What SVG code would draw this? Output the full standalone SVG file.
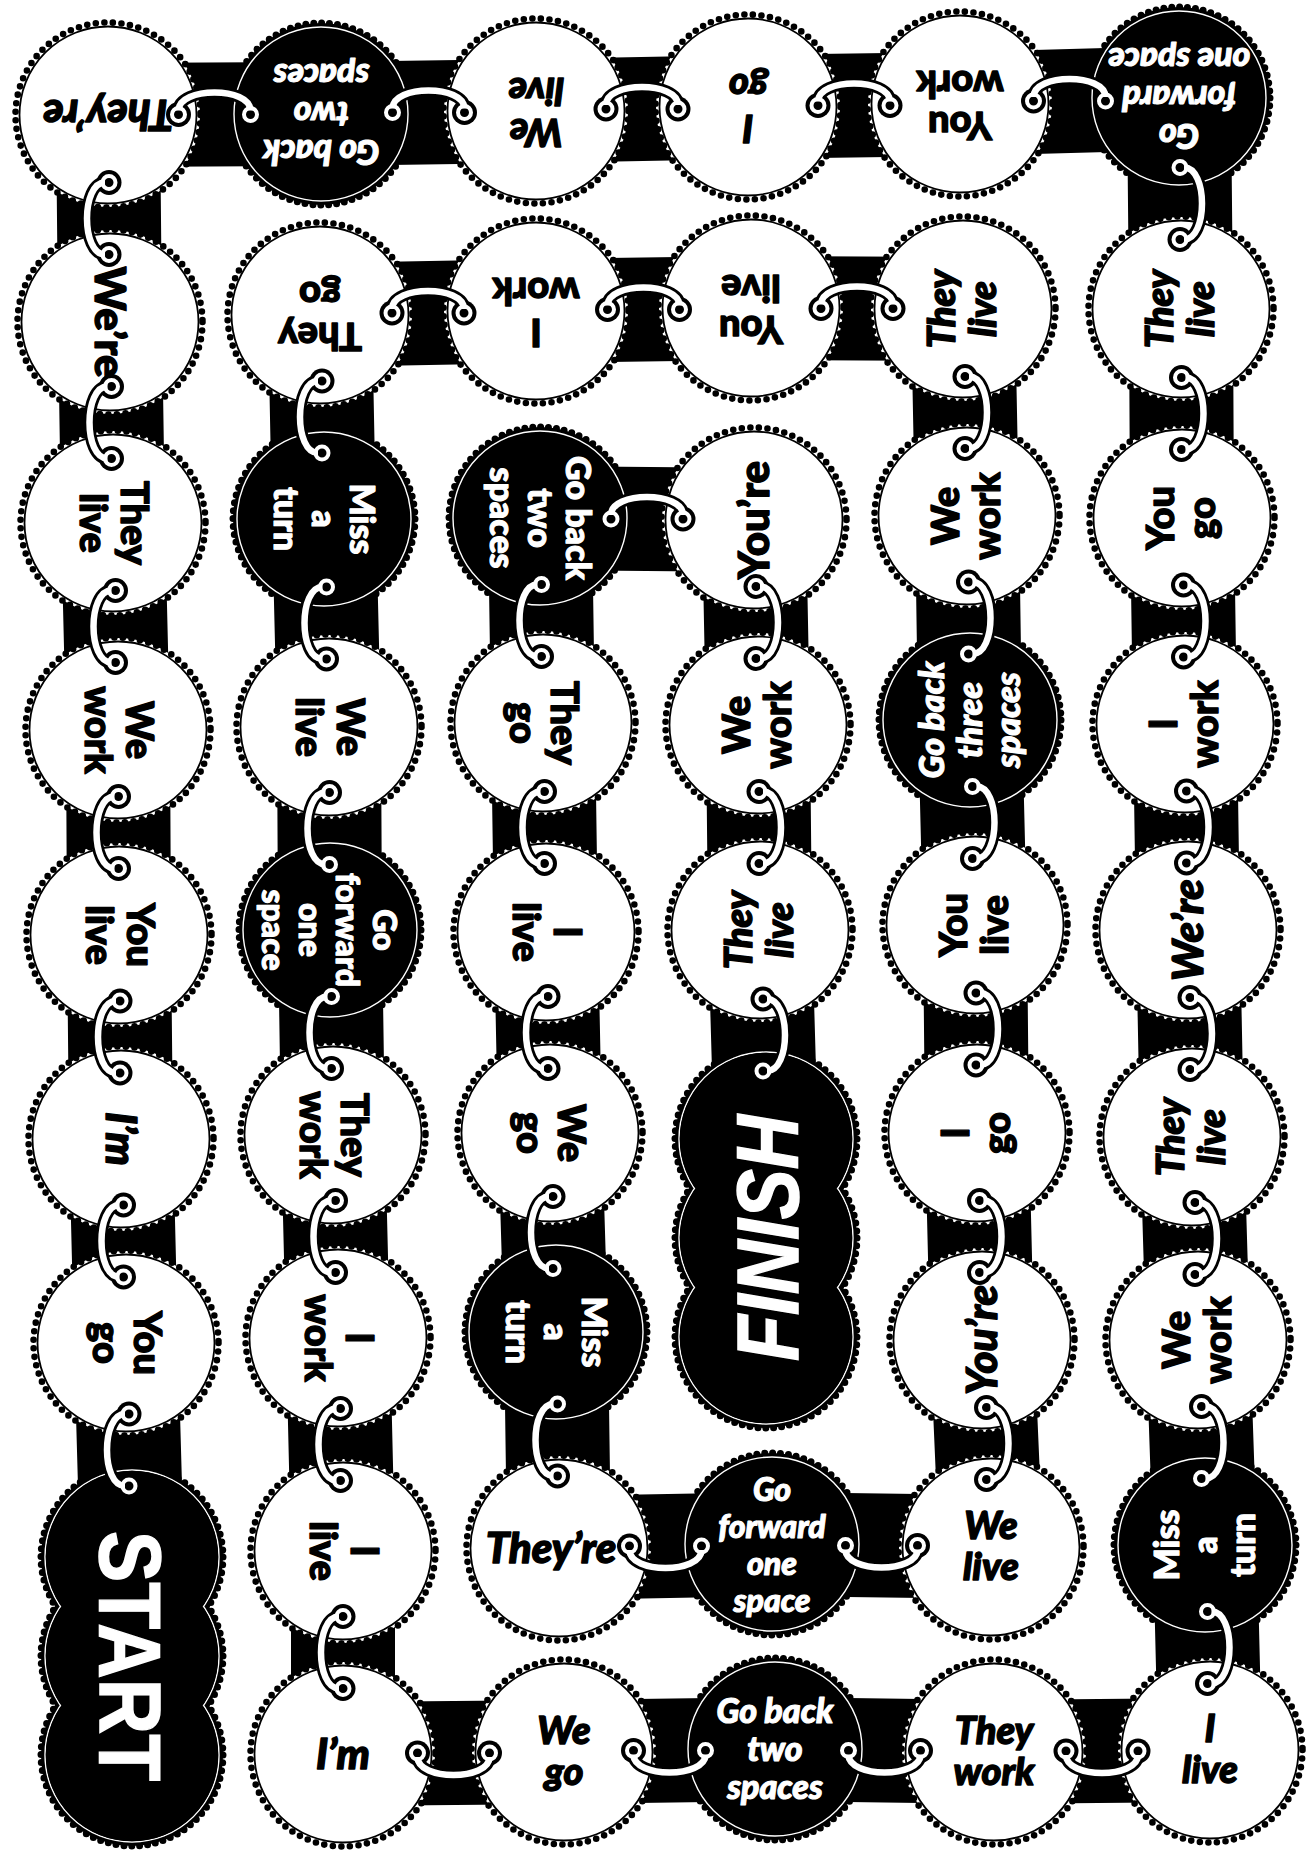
<svg xmlns="http://www.w3.org/2000/svg" xmlns:xlink="http://www.w3.org/1999/xlink" width="1312" height="1854" viewBox="0 0 1312 1854">
<style>
.t{font-family:Lato,"Open Sans","Liberation Sans",sans-serif;font-weight:900;text-anchor:middle;stroke-linejoin:round}
.k{fill:#000;stroke:#000;stroke-width:1.4}.w{fill:#fff;stroke:#fff;stroke-width:1.1}.i{font-style:italic}
.f1{font-size:42px}.f2{font-size:38px}.fb{font-size:34px}.f4{font-size:32px}
.band{fill:none;stroke:#000;stroke-width:104;stroke-linejoin:miter;stroke-linecap:butt}
.wd{fill:none;stroke:#000;stroke-width:6.6;stroke-dasharray:0 8.63;stroke-linecap:round}
.wl{fill:#fff;stroke:#000;stroke-width:1.8}
.bd{fill:none;stroke:#000;stroke-width:7;stroke-dasharray:0 7.94;stroke-linecap:round}
.bl{fill:none;stroke:#fff;stroke-width:1.4}
.big{font-family:"Liberation Sans",Arial,sans-serif;font-weight:700;font-size:88px;fill:#fff;stroke:#fff;stroke-width:1.5;text-anchor:middle}
.lo{fill:none;stroke:#000;stroke-width:12}
.li{fill:none;stroke:#fff;stroke-width:6.5}
.er{fill:none;stroke:#fff;stroke-width:4}
</style>
<defs>
<g id="wt"><circle r="92" fill="#fff"/><circle r="92.5" class="wd"/><circle r="88.5" class="wl"/></g>
<g id="bt"><circle r="91" fill="#000"/><circle r="91" class="bd"/><circle r="87" class="bl"/></g>
<g id="pn">
<circle cy="-99" r="91" fill="#000"/><circle cy="0" r="91" fill="#000"/><circle cy="99" r="91" fill="#000"/>
<circle cy="-99" r="91" class="bd"/><circle cy="0" r="91" class="bd"/><circle cy="99" r="91" class="bd"/>
<circle cy="-99" r="87" class="bl"/><circle cy="0" r="87" class="bl"/><circle cy="99" r="87" class="bl"/>
<circle cy="-99" r="86.2" fill="#000"/><circle cy="0" r="86.2" fill="#000"/><circle cy="99" r="86.2" fill="#000"/>
</g>
<g id="lk">
<path d="M-36-4C-36-28 36-28 36-4" class="lo"/>
<circle cx="-36" r="12.5" fill="#000"/><circle cx="36" r="12.5" fill="#000"/>
<path d="M-36-4C-36-28 36-28 36-4" class="li"/>
<circle cx="-36" r="6.5" class="er"/><circle cx="36" r="6.5" class="er"/>
</g>
</defs>
<rect width="1312" height="1854" fill="#fff"/>
<g id="bands">
<polyline class="band" points="132,1557 126,1343 121,1139 119,935 118,730 113,523 110,322 108,115 321,114 536,111 748,107 960,104 1179,98 1181,309 1182,518 1185,724 1188,930 1192,1137 1198,1340 1205,1545 1210,1750 994,1752 775,1749 564,1752 343,1754 343,1551 338,1338 333,1135 330,930 329,727 324,519 320,315 536,311 751,308 963,309 967,516 970,720 975,925 977,1133 982,1340 991,1547 772,1544 559,1548 556,1332 550,1133 546,932 543,723 540,518 754,520 758,725 760,930 766,1140"/>
</g>
<g id="nodes">
<g id="n01" transform="translate(108,115)"><use href="#wt"/><text class="t k i f1" transform="rotate(180)"><tspan x="0" y="15">They’re</tspan></text></g>
<g id="n02" transform="translate(321,114)"><use href="#bt"/><text class="t w i fb" transform="rotate(180)"><tspan x="0" y="-26">Go back</tspan><tspan x="0" y="12">two</tspan><tspan x="0" y="50">spaces</tspan></text></g>
<g id="n03" transform="translate(536,111)"><use href="#wt"/><text class="t k i f2" transform="rotate(180)"><tspan x="0" y="-8">We</tspan><tspan x="0" y="33">live</tspan></text></g>
<g id="n04" transform="translate(748,107)"><use href="#wt"/><text class="t k i f2" transform="rotate(180)"><tspan x="0" y="-8">I</tspan><tspan x="0" y="33">go</tspan></text></g>
<g id="n05" transform="translate(960,104)"><use href="#wt"/><text class="t k f2" transform="rotate(180)"><tspan x="0" y="-8">You</tspan><tspan x="0" y="33">work</tspan></text></g>
<g id="n06" transform="translate(1179,98)"><use href="#bt"/><text class="t w i fb" transform="rotate(180)"><tspan x="0" y="-26">Go</tspan><tspan x="0" y="12">forward</tspan><tspan x="0" y="50">one space</tspan></text></g>
<g id="n07" transform="translate(110,322)"><use href="#wt"/><text class="t k f1" transform="rotate(90)"><tspan x="0" y="15">We’re</tspan></text></g>
<g id="n08" transform="translate(320,315)"><use href="#wt"/><text class="t k f2" transform="rotate(180)"><tspan x="0" y="-8">They</tspan><tspan x="0" y="33">go</tspan></text></g>
<g id="n09" transform="translate(536,311)"><use href="#wt"/><text class="t k f2" transform="rotate(180)"><tspan x="0" y="-8">I</tspan><tspan x="0" y="33">work</tspan></text></g>
<g id="n10" transform="translate(751,308)"><use href="#wt"/><text class="t k f2" transform="rotate(180)"><tspan x="0" y="-8">You</tspan><tspan x="0" y="33">live</tspan></text></g>
<g id="n11" transform="translate(963,309)"><use href="#wt"/><text class="t k i f2" transform="rotate(-90)"><tspan x="0" y="-8">They</tspan><tspan x="0" y="33">live</tspan></text></g>
<g id="n12" transform="translate(1181,309)"><use href="#wt"/><text class="t k i f2" transform="rotate(-90)"><tspan x="0" y="-8">They</tspan><tspan x="0" y="33">live</tspan></text></g>
<g id="n13" transform="translate(113,523)"><use href="#wt"/><text class="t k f2" transform="rotate(90)"><tspan x="0" y="-8">They</tspan><tspan x="0" y="33">live</tspan></text></g>
<g id="n14" transform="translate(324,519)"><use href="#bt"/><text class="t w fb" transform="rotate(90)"><tspan x="0" y="-26">Miss</tspan><tspan x="0" y="12">a</tspan><tspan x="0" y="50">turn</tspan></text></g>
<g id="n15" transform="translate(540,518)"><use href="#bt"/><text class="t w fb" transform="rotate(90)"><tspan x="0" y="-26">Go back</tspan><tspan x="0" y="12">two</tspan><tspan x="0" y="50">spaces</tspan></text></g>
<g id="n16" transform="translate(754,520)"><use href="#wt"/><text class="t k f1" transform="rotate(-90)"><tspan x="0" y="15">You’re</tspan></text></g>
<g id="n17" transform="translate(967,516)"><use href="#wt"/><text class="t k f2" transform="rotate(-90)"><tspan x="0" y="-8">We</tspan><tspan x="0" y="33">work</tspan></text></g>
<g id="n18" transform="translate(1182,518)"><use href="#wt"/><text class="t k f2" transform="rotate(-90)"><tspan x="0" y="-8">You</tspan><tspan x="0" y="33">go</tspan></text></g>
<g id="n19" transform="translate(118,730)"><use href="#wt"/><text class="t k f2" transform="rotate(90)"><tspan x="0" y="-8">We</tspan><tspan x="0" y="33">work</tspan></text></g>
<g id="n20" transform="translate(329,727)"><use href="#wt"/><text class="t k f2" transform="rotate(90)"><tspan x="0" y="-8">We</tspan><tspan x="0" y="33">live</tspan></text></g>
<g id="n21" transform="translate(543,723)"><use href="#wt"/><text class="t k f2" transform="rotate(90)"><tspan x="0" y="-8">They</tspan><tspan x="0" y="33">go</tspan></text></g>
<g id="n22" transform="translate(758,725)"><use href="#wt"/><text class="t k f2" transform="rotate(-90)"><tspan x="0" y="-8">We</tspan><tspan x="0" y="33">work</tspan></text></g>
<g id="n23" transform="translate(970,720)"><use href="#bt"/><text class="t w i fb" transform="rotate(-90)"><tspan x="0" y="-26">Go back</tspan><tspan x="0" y="12">three</tspan><tspan x="0" y="50">spaces</tspan></text></g>
<g id="n24" transform="translate(1185,724)"><use href="#wt"/><text class="t k f2" transform="rotate(-90)"><tspan x="0" y="-8">I</tspan><tspan x="0" y="33">work</tspan></text></g>
<g id="n25" transform="translate(119,935)"><use href="#wt"/><text class="t k f2" transform="rotate(90)"><tspan x="0" y="-8">You</tspan><tspan x="0" y="33">live</tspan></text></g>
<g id="n26" transform="translate(330,930)"><use href="#bt"/><text class="t w f4" transform="rotate(90)"><tspan x="0" y="-43">Go</tspan><tspan x="0" y="-6">forward</tspan><tspan x="0" y="31">one</tspan><tspan x="0" y="68">space</tspan></text></g>
<g id="n27" transform="translate(546,932)"><use href="#wt"/><text class="t k f2" transform="rotate(90)"><tspan x="0" y="-8">I</tspan><tspan x="0" y="33">live</tspan></text></g>
<g id="n28" transform="translate(760,930)"><use href="#wt"/><text class="t k i f2" transform="rotate(-90)"><tspan x="0" y="-8">They</tspan><tspan x="0" y="33">live</tspan></text></g>
<g id="n29" transform="translate(975,925)"><use href="#wt"/><text class="t k f2" transform="rotate(-90)"><tspan x="0" y="-8">You</tspan><tspan x="0" y="33">live</tspan></text></g>
<g id="n30" transform="translate(1188,930)"><use href="#wt"/><text class="t k i f1" transform="rotate(-90)"><tspan x="0" y="15">We’re</tspan></text></g>
<g id="n31" transform="translate(121,1139)"><use href="#wt"/><text class="t k i f1" transform="rotate(90)"><tspan x="0" y="15">I’m</tspan></text></g>
<g id="n32" transform="translate(333,1135)"><use href="#wt"/><text class="t k f2" transform="rotate(90)"><tspan x="0" y="-8">They</tspan><tspan x="0" y="33">work</tspan></text></g>
<g id="n33" transform="translate(550,1133)"><use href="#wt"/><text class="t k f2" transform="rotate(90)"><tspan x="0" y="-8">We</tspan><tspan x="0" y="33">go</tspan></text></g>
<g id="n34" transform="translate(977,1133)"><use href="#wt"/><text class="t k f2" transform="rotate(-90)"><tspan x="0" y="-8">I</tspan><tspan x="0" y="33">go</tspan></text></g>
<g id="n35" transform="translate(1192,1137)"><use href="#wt"/><text class="t k i f2" transform="rotate(-90)"><tspan x="0" y="-8">They</tspan><tspan x="0" y="33">live</tspan></text></g>
<g id="n36" transform="translate(126,1343)"><use href="#wt"/><text class="t k f2" transform="rotate(90)"><tspan x="0" y="-8">You</tspan><tspan x="0" y="33">go</tspan></text></g>
<g id="n37" transform="translate(338,1338)"><use href="#wt"/><text class="t k f2" transform="rotate(90)"><tspan x="0" y="-8">I</tspan><tspan x="0" y="33">work</tspan></text></g>
<g id="n38" transform="translate(556,1332)"><use href="#bt"/><text class="t w fb" transform="rotate(90)"><tspan x="0" y="-26">Miss</tspan><tspan x="0" y="12">a</tspan><tspan x="0" y="50">turn</tspan></text></g>
<g id="n39" transform="translate(982,1340)"><use href="#wt"/><text class="t k i f1" transform="rotate(-90)"><tspan x="0" y="15">You’re</tspan></text></g>
<g id="n40" transform="translate(1198,1340)"><use href="#wt"/><text class="t k f2" transform="rotate(-90)"><tspan x="0" y="-8">We</tspan><tspan x="0" y="33">work</tspan></text></g>
<g id="start" transform="translate(132,1656)"><use href="#pn"/><text class="big" transform="rotate(90)" x="0" y="32" textLength="250" lengthAdjust="spacingAndGlyphs">START</text></g>
<g id="n42" transform="translate(343,1551)"><use href="#wt"/><text class="t k f2" transform="rotate(90)"><tspan x="0" y="-8">I</tspan><tspan x="0" y="33">live</tspan></text></g>
<g id="n43" transform="translate(559,1548)"><use href="#wt"/><text class="t k i f1"><tspan x="-8" y="15">They’re</tspan></text></g>
<g id="n44" transform="translate(772,1544)"><use href="#bt"/><text class="t w i f4"><tspan x="0" y="-43">Go</tspan><tspan x="0" y="-6">forward</tspan><tspan x="0" y="31">one</tspan><tspan x="0" y="68">space</tspan></text></g>
<g id="n45" transform="translate(991,1547)"><use href="#wt"/><text class="t k i f2"><tspan x="0" y="-8">We</tspan><tspan x="0" y="33">live</tspan></text></g>
<g id="n46" transform="translate(1205,1545)"><use href="#bt"/><text class="t w fb" transform="rotate(-90)"><tspan x="0" y="-26">Miss</tspan><tspan x="0" y="12">a</tspan><tspan x="0" y="50">turn</tspan></text></g>
<g id="n47" transform="translate(343,1754)"><use href="#wt"/><text class="t k i f1"><tspan x="0" y="15">I’m</tspan></text></g>
<g id="n48" transform="translate(564,1752)"><use href="#wt"/><text class="t k i f2"><tspan x="0" y="-8">We</tspan><tspan x="0" y="33">go</tspan></text></g>
<g id="n49" transform="translate(775,1749)"><use href="#bt"/><text class="t w i fb"><tspan x="0" y="-26">Go back</tspan><tspan x="0" y="12">two</tspan><tspan x="0" y="50">spaces</tspan></text></g>
<g id="n50" transform="translate(994,1752)"><use href="#wt"/><text class="t k i f2"><tspan x="0" y="-8">They</tspan><tspan x="0" y="33">work</tspan></text></g>
<g id="n51" transform="translate(1210,1750)"><use href="#wt"/><text class="t k i f2"><tspan x="0" y="-8">I</tspan><tspan x="0" y="33">live</tspan></text></g>
<g id="finish" transform="translate(766,1238)"><use href="#pn"/><text class="big i" transform="rotate(-90)" x="0" y="32" textLength="246" lengthAdjust="spacingAndGlyphs">FINISH</text></g>
</g>
<g id="connectors">
<use href="#lk" transform="translate(129,1450) rotate(-90)"/>
<use href="#lk" transform="translate(123.5,1241) rotate(-90)"/>
<use href="#lk" transform="translate(120,1037) rotate(-90)"/>
<use href="#lk" transform="translate(118.5,832.5) rotate(-90)"/>
<use href="#lk" transform="translate(115.5,626.5) rotate(-90)"/>
<use href="#lk" transform="translate(111.5,422.5) rotate(-90)"/>
<use href="#lk" transform="translate(109,218.5) rotate(-90)"/>
<use href="#lk" transform="translate(214.5,114.5)"/>
<use href="#lk" transform="translate(428.5,112.5)"/>
<use href="#lk" transform="translate(642,109)"/>
<use href="#lk" transform="translate(854,105.5)"/>
<use href="#lk" transform="translate(1069.5,101)"/>
<use href="#lk" transform="translate(1180,203.5) rotate(90)"/>
<use href="#lk" transform="translate(1181.5,413.5) rotate(90)"/>
<use href="#lk" transform="translate(1183.5,621) rotate(90)"/>
<use href="#lk" transform="translate(1186.5,827) rotate(90)"/>
<use href="#lk" transform="translate(1190,1033.5) rotate(90)"/>
<use href="#lk" transform="translate(1195,1238.5) rotate(90)"/>
<use href="#lk" transform="translate(1201.5,1442.5) rotate(90)"/>
<use href="#lk" transform="translate(1207.5,1647.5) rotate(90)"/>
<use href="#lk" transform="translate(1102,1751) rotate(180)"/>
<use href="#lk" transform="translate(884.5,1750.5) rotate(180)"/>
<use href="#lk" transform="translate(669.5,1750.5) rotate(180)"/>
<use href="#lk" transform="translate(453.5,1753) rotate(180)"/>
<use href="#lk" transform="translate(343,1652.5) rotate(-90)"/>
<use href="#lk" transform="translate(340.5,1444.5) rotate(-90)"/>
<use href="#lk" transform="translate(335.5,1236.5) rotate(-90)"/>
<use href="#lk" transform="translate(331.5,1032.5) rotate(-90)"/>
<use href="#lk" transform="translate(329.5,828.5) rotate(-90)"/>
<use href="#lk" transform="translate(326.5,623) rotate(-90)"/>
<use href="#lk" transform="translate(322,417) rotate(-90)"/>
<use href="#lk" transform="translate(428,313)"/>
<use href="#lk" transform="translate(643.5,309.5)"/>
<use href="#lk" transform="translate(857,308.5)"/>
<use href="#lk" transform="translate(965,412.5) rotate(90)"/>
<use href="#lk" transform="translate(968.5,618) rotate(90)"/>
<use href="#lk" transform="translate(972.5,822.5) rotate(90)"/>
<use href="#lk" transform="translate(976,1029) rotate(90)"/>
<use href="#lk" transform="translate(979.5,1236.5) rotate(90)"/>
<use href="#lk" transform="translate(986.5,1443.5) rotate(90)"/>
<use href="#lk" transform="translate(881.5,1545.5) rotate(180)"/>
<use href="#lk" transform="translate(665.5,1546) rotate(180)"/>
<use href="#lk" transform="translate(557.5,1440) rotate(-90)"/>
<use href="#lk" transform="translate(553,1232.5) rotate(-90)"/>
<use href="#lk" transform="translate(548,1032.5) rotate(-90)"/>
<use href="#lk" transform="translate(544.5,827.5) rotate(-90)"/>
<use href="#lk" transform="translate(541.5,620.5) rotate(-90)"/>
<use href="#lk" transform="translate(647,519)"/>
<use href="#lk" transform="translate(756,622.5) rotate(90)"/>
<use href="#lk" transform="translate(759,827.5) rotate(90)"/>
<use href="#lk" transform="translate(763,1035) rotate(90)"/>
</g>
</svg>
